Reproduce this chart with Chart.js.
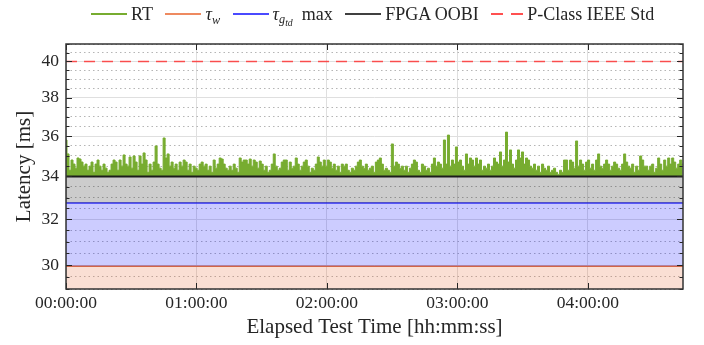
<!DOCTYPE html>
<html><head><meta charset="utf-8">
<script src="https://cdn.jsdelivr.net/npm/chart.js@4.4.1/dist/chart.umd.min.js"></script>
<style>
html,body{margin:0;padding:0;background:#fff;}
#wrap{position:relative;width:704px;height:345px;overflow:hidden;}
#c{position:absolute;left:0;top:0;}
#legend{position:absolute;top:1px;left:91px;display:flex;align-items:center;height:26px;font-family:'Liberation Serif','DejaVu Serif',serif;font-size:18px;color:#262626;white-space:nowrap;}
.item{display:flex;align-items:center;margin-right:12.5px;}
.swatch{width:36px;height:2px;margin-right:4px;}
.lab sub{font-size:68%;vertical-align:-0.3em;line-height:0;}
.lab sub sub{font-size:80%;}
</style></head><body>
<div id="wrap"><canvas id="c" width="704" height="345"></canvas><div id="legend"></div></div>
<script>
// ---- data ----
const RT_MS = [
35.8,35.1,34.3,34.8,34.6,34.4,34.9,34.85,34.7,34.5,
34.6,34.3,34.5,34.7,34.2,34.6,34.8,34.5,34.3,34.6,
34.4,34.2,34.3,34.6,34.8,34.7,34.3,34.8,34.5,35.05,
34.6,34.5,34.95,34.4,35.0,34.7,34.3,35.0,34.6,35.15,
34.8,34.2,34.6,34.3,34.7,35.5,34.6,34.4,34.3,35.9,
34.9,35.1,34.5,34.7,34.4,34.6,34.3,34.7,34.5,34.8,
34.7,34.3,34.6,34.2,34.5,34.4,34.3,34.6,34.7,34.5,
34.6,34.3,34.5,34.2,34.8,34.4,34.6,34.9,34.85,34.6,
34.4,34.3,34.5,34.3,34.6,34.4,34.2,34.9,34.7,34.8,
34.8,34.6,34.85,34.5,34.8,34.7,34.4,34.75,34.6,34.3,
34.5,34.2,34.3,34.6,35.1,34.5,34.3,34.4,34.7,34.8,
34.8,34.3,34.7,34.4,34.5,34.9,34.6,34.3,34.5,34.7,
34.8,34.5,34.2,34.4,34.3,34.6,34.95,34.7,34.5,34.8,
34.5,34.8,34.7,34.4,34.6,34.3,34.5,34.2,34.6,34.5,
34.6,34.3,34.2,34.4,34.3,34.5,34.7,34.8,34.5,34.4,
34.6,34.3,34.4,34.5,34.2,34.7,34.8,34.9,34.6,34.3,
34.4,34.3,34.2,35.6,34.5,34.7,34.6,34.4,34.5,34.3,
34.5,34.2,34.4,34.6,34.8,34.7,34.3,34.2,34.6,34.5,
34.3,34.4,34.2,34.6,34.9,34.5,34.7,34.6,34.4,35.8,
34.6,36.05,34.5,34.8,34.6,35.45,34.7,34.8,34.5,34.3,
35.1,34.6,34.9,34.8,34.5,34.9,34.6,34.8,34.3,34.5,
34.4,34.6,34.3,34.5,34.9,34.7,34.6,35.2,34.5,34.8,
36.2,34.7,35.3,34.6,34.4,34.8,35.3,34.9,35.2,34.6,
34.9,34.8,34.5,34.4,34.6,34.3,34.5,34.2,34.6,34.4,
34.3,34.5,34.2,34.3,34.4,34.2,34.1,34.3,34.2,34.8,
34.8,34.3,34.8,34.7,34.4,35.75,34.5,34.8,34.6,34.3,
34.7,34.8,34.4,34.6,34.3,34.8,35.1,34.5,34.4,34.6,
34.8,34.6,34.3,34.5,34.7,34.6,34.4,34.3,34.6,35.1,
34.7,34.5,34.4,34.6,34.2,34.5,34.3,35.0,34.8,34.5,
34.5,34.3,34.5,34.6,34.2,34.4,34.9,34.6,34.3,34.8,
34.5,34.9,34.6,34.9,34.7,34.4,34.6,34.8,34.6
];
const SAMPLE_PERIOD_S = 55.25;
const X_MAX_S = 17025;
const X_TICKS_S = [0, 3600, 7200, 10800, 14400];
const Y_MIN = 29, Y_MAX = 41;
const Y_TICKS = [29,29.5,30,30.5,31,31.5,32,32.5,33,33.5,34,34.5,35,35.5,36,36.5,37,37.5,38,38.5,39,39.5,40,40.5,41];
const Y_LABELED = [30, 32, 34, 36, 38, 40];
const TAU_W_MS = 29.95;
const TAU_GTD_MAX_MS = 32.75;
const FPGA_OOBI_MS = 34.0;
const PCLASS_STD_MS = 40;
const SERIES_LABELS = ['RT', 'τw', 'τgtd max', 'FPGA OOBI', 'P-Class IEEE Std'];
const LEGEND_HTML = ['RT', '<i>τ<sub>w</sub></i>', '<i>τ<sub>g<sub>td</sub></sub></i>&nbsp;&nbsp;max', 'FPGA OOBI', 'P-Class IEEE Std'];

const FONT = "'Liberation Serif','DejaVu Serif',serif";
const TXT = '#262626';
const C_RT = '#77ac30', C_W = '#dd6a3e', C_GTD = '#2f2ff5', C_OOBI = '#1c1c1c', C_STD = 'rgba(255,40,40,0.8)';
const LEGEND_COLORS = ['#77ac30', '#ee8a60', '#4a4aff', '#404040', '#ff5050'];

function hline(v){ return [{x:0,y:v},{x:X_MAX_S,y:v}]; }
function fmt(s){
  const h = Math.floor(s/3600), m = Math.floor((s%3600)/60), sec = Math.round(s%60);
  const p = n => String(n).padStart(2,'0');
  return p(h)+':'+p(m)+':'+p(sec);
}

const rtData = RT_MS.map((v,i)=>({x:i*SAMPLE_PERIOD_S, y:v}));

const datasets = [
  {label:SERIES_LABELS[0], data:rtData, borderColor:C_RT, backgroundColor:C_RT, borderWidth:1, pointRadius:0, stepped:'middle', fill:{value:FPGA_OOBI_MS}, order:2},
  {label:SERIES_LABELS[1], data:hline(TAU_W_MS), borderColor:C_W, backgroundColor:'rgba(230,95,40,0.2)', borderWidth:1.5, pointRadius:0, fill:'start', order:4},
  {label:SERIES_LABELS[2], data:hline(TAU_GTD_MAX_MS), borderColor:C_GTD, backgroundColor:'rgba(0,0,255,0.2)', borderWidth:1.5, pointRadius:0, fill:1, order:3},
  {label:SERIES_LABELS[3], data:hline(FPGA_OOBI_MS), borderColor:C_OOBI, backgroundColor:'rgba(0,0,0,0.2)', borderWidth:2, pointRadius:0, fill:2, order:1},
  {label:SERIES_LABELS[4], data:hline(PCLASS_STD_MS), borderColor:C_STD, borderWidth:1.5, borderDash:[11,7], pointRadius:0, fill:false, order:0}
];

const frame = {
  id:'frame',
  afterDatasetsDraw(chart){
    const {ctx, chartArea:{left,right,top,bottom}, scales:{x,y}} = chart;
    ctx.save();
    ctx.strokeStyle = '#262626';
    ctx.lineWidth = 1;
    ctx.beginPath();
    y.ticks.forEach(t=>{
      const py = Math.round(y.getPixelForValue(t.value)) + 0.5;
      const L = Y_LABELED.includes(t.value) ? 6 : 3.5;
      ctx.moveTo(left, py); ctx.lineTo(left+L, py);
      ctx.moveTo(right, py); ctx.lineTo(right-L, py);
    });
    x.ticks.forEach(t=>{
      const px = Math.round(x.getPixelForValue(t.value)) + 0.5;
      ctx.moveTo(px, bottom); ctx.lineTo(px, bottom-6);
      ctx.moveTo(px, top); ctx.lineTo(px, top+6);
    });
    ctx.stroke();
    ctx.lineWidth = 1.5;
    ctx.strokeStyle = '#333';
    ctx.strokeRect(left, top, right-left, bottom-top);
    ctx.restore();
  }
};

const chart = new Chart(document.getElementById('c'), {
  type:'line',
  data:{datasets},
  options:{
    responsive:false, animation:false, devicePixelRatio:1,
    layout:{padding:{top:44, right:21, bottom:0, left:0}},
    plugins:{legend:{display:false}, tooltip:{enabled:false}},
    elements:{line:{tension:0}},
    scales:{
      x:{
        type:'linear', min:0, max:X_MAX_S,
        afterBuildTicks: s => { s.ticks = X_TICKS_S.map(v=>({value:v})); },
        afterFit: s => { s.height = 56; },
        grid:{color:'#dfdfdf', lineWidth:1, drawTicks:false},
        border:{display:false},
        ticks:{padding:4, color:TXT, font:{family:FONT, size:17.5}, maxRotation:0, autoSkip:false, callback: v => fmt(v)},
        title:{display:true, text:'Elapsed Test Time [hh:mm:ss]', color:TXT, font:{family:FONT, size:21}, padding:{top:0, bottom:5}}
      },
      y:{
        type:'logarithmic', min:Y_MIN, max:Y_MAX,
        afterBuildTicks: s => { s.ticks = Y_TICKS.map(v=>({value:v})); },
        afterFit: s => { s.width = 66; },
        grid:{drawTicks:false, lineWidth:1, color: c => (c.tick && !Y_LABELED.includes(c.tick.value)) ? '#b5b5b5' : '#dfdfdf'},
        border:{display:false, dash: c => (c.tick && !Y_LABELED.includes(c.tick.value)) ? [1.5,3] : []},
        ticks:{autoSkip:false, padding:7, color:TXT, font:{family:FONT, size:17.5}, callback: v => Y_LABELED.includes(v) ? String(v) : ''},
        title:{display:true, text:'Latency [ms]', color:TXT, font:{family:FONT, size:21}, padding:{top:12, bottom:0}}
      }
    }
  },
  plugins:[frame]
});

// HTML legend (for subscripts), built from the chart datasets
const lg = document.getElementById('legend');
chart.data.datasets.forEach((ds,i)=>{
  const item = document.createElement('div'); item.className='item';
  const sw = document.createElement('span'); sw.className='swatch';
  if (ds.borderDash) {
    sw.style.background = 'repeating-linear-gradient(to right,'+LEGEND_COLORS[i]+' 0 12px, transparent 12px 20px)';
    sw.style.width = '32px';
  } else sw.style.background = LEGEND_COLORS[i];
  const lab = document.createElement('span'); lab.className='lab'; lab.innerHTML = LEGEND_HTML[i];
  item.appendChild(sw); item.appendChild(lab); lg.appendChild(item);
});
</script>
</body></html>
